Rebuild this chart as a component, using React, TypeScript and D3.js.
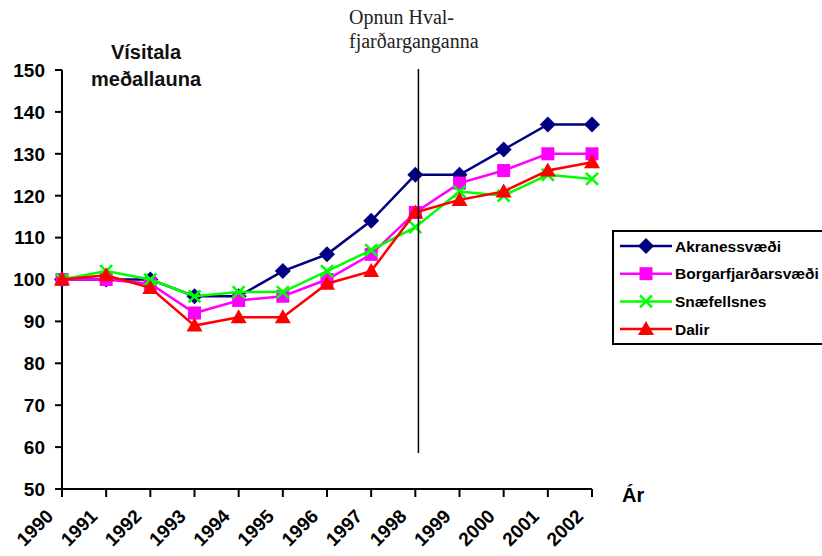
import React, { useEffect, useRef } from 'react';
import * as d3 from 'd3';

const years = [1990, 1991, 1992, 1993, 1994, 1995, 1996, 1997, 1998, 1999, 2000, 2001, 2002];
const akranes = [100, 100, 100, 96, 96, 102, 106, 114, 125, 125, 131, 137, 137];
const borgarfjordur = [100, 100, 99, 92, 95, 96, 100, 106, 116, 123, 126, 130, 130];
const snaefellsnes = [100, 102, 100, 96, 97, 97, 102, 107, 112.5, 121, 120, 125, 124];
const dalir = [100, 101, 98, 89, 91, 91, 99, 102, 116, 119, 121, 126, 128];
const yTicks = [50, 60, 70, 80, 90, 100, 110, 120, 130, 140, 150];
const seriesNames = ['Akranessvæði', 'Borgarfjarðarsvæði', 'Snæfellsnes', 'Dalir'];
const tunnelYear = 1998.07;

const sans = '"Liberation Sans", Arial, sans-serif';

const App = () => {
  const svgRef = useRef(null);

  useEffect(() => {
    const svg = d3.select(svgRef.current);
    svg.selectAll('*').remove();

    const x = d3.scaleLinear().domain([1990, 2002]).range([62, 592]);
    const y = d3.scaleLinear().domain([50, 150]).range([489, 70]);

    const series = [
      { name: seriesNames[0], values: akranes, color: '#000080', marker: 'diamond' },
      { name: seriesNames[1], values: borgarfjordur, color: '#ff00ff', marker: 'square' },
      { name: seriesNames[2], values: snaefellsnes, color: '#00ff00', marker: 'cross' },
      { name: seriesNames[3], values: dalir, color: '#ff0000', marker: 'triangle' },
    ];

    // marker drawing helper
    const drawMarker = (g, type, cx, cy, color) => {
      if (type === 'diamond') {
        g.append('path')
          .attr('d', `M${cx},${cy - 8}L${cx + 8},${cy}L${cx},${cy + 8}L${cx - 8},${cy}Z`)
          .attr('fill', color);
      } else if (type === 'square') {
        g.append('rect')
          .attr('x', cx - 6.5).attr('y', cy - 6.5)
          .attr('width', 13).attr('height', 13)
          .attr('fill', color);
      } else if (type === 'triangle') {
        g.append('path')
          .attr('d', `M${cx},${cy - 8}L${cx + 8},${cy + 6}L${cx - 8},${cy + 6}Z`)
          .attr('fill', color);
      } else {
        g.append('path')
          .attr('d', `M${cx - 6},${cy - 6}L${cx + 6},${cy + 6}M${cx + 6},${cy - 6}L${cx - 6},${cy + 6}`)
          .attr('stroke', color)
          .attr('stroke-width', 2.5)
          .attr('fill', 'none');
      }
    };

    // Y axis
    const yAxis = svg.append('g');
    yAxis.append('line')
      .attr('x1', x(1990)).attr('x2', x(1990))
      .attr('y1', y(150)).attr('y2', y(50))
      .attr('stroke', '#000').attr('stroke-width', 2);
    yTicks.forEach(t => {
      yAxis.append('line')
        .attr('x1', x(1990) - 7).attr('x2', x(1990))
        .attr('y1', y(t)).attr('y2', y(t))
        .attr('stroke', '#000').attr('stroke-width', 2);
      yAxis.append('text')
        .attr('x', 45).attr('y', y(t))
        .attr('dy', '0.36em')
        .attr('text-anchor', 'end')
        .attr('font-family', sans)
        .attr('font-weight', 'bold')
        .attr('font-size', 19)
        .text(t);
    });

    // X axis
    const xAxis = svg.append('g');
    xAxis.append('line')
      .attr('x1', x(1990)).attr('x2', x(2002))
      .attr('y1', y(50)).attr('y2', y(50))
      .attr('stroke', '#000').attr('stroke-width', 2);
    years.forEach(yr => {
      xAxis.append('line')
        .attr('x1', x(yr)).attr('x2', x(yr))
        .attr('y1', y(50)).attr('y2', y(50) + 8)
        .attr('stroke', '#000').attr('stroke-width', 2);
      xAxis.append('text')
        .attr('transform', `translate(${x(yr) - 17},${y(50) + 19}) rotate(-45)`)
        .attr('text-anchor', 'end')
        .attr('dy', '0.7em')
        .attr('font-family', sans)
        .attr('font-weight', 'bold')
        .attr('font-size', 19)
        .text(yr);
    });

    svg.append('text')
      .attr('x', 622).attr('y', 502)
      .attr('font-family', sans)
      .attr('font-weight', 'bold')
      .attr('font-size', 20)
      .text('Ár');

    // Title
    const title = svg.append('text')
      .attr('text-anchor', 'middle')
      .attr('font-family', sans)
      .attr('font-weight', 'bold')
      .attr('font-size', 20)
      .attr('fill', '#111');
    title.append('tspan').attr('x', 146).attr('y', 59).text('Vísitala');
    title.append('tspan').attr('x', 146).attr('y', 86).text('meðallauna');

    // Lines and markers
    const line = d3.line().x((d, i) => x(years[i])).y(d => y(d));
    series.forEach(s => {
      const g = svg.append('g');
      g.append('path')
        .datum(s.values)
        .attr('fill', 'none')
        .attr('stroke', s.color)
        .attr('stroke-width', 2.5)
        .attr('d', line);
      s.values.forEach((v, i) => drawMarker(g, s.marker, x(years[i]), y(v), s.color));
    });

    // Tunnel opening line
    svg.append('line')
      .attr('x1', x(tunnelYear)).attr('x2', x(tunnelYear))
      .attr('y1', 69).attr('y2', 453)
      .attr('stroke', '#000').attr('stroke-width', 1.5);

    const note = svg.append('text')
      .attr('font-family', '"Liberation Serif", "Times New Roman", serif')
      .attr('font-size', 20)
      .attr('fill', '#222');
    note.append('tspan').attr('x', 349).attr('y', 24).text('Opnun Hval-');
    note.append('tspan').attr('x', 349).attr('y', 48).text('fjarðarganganna');

    // Legend
    const legend = svg.append('g');
    legend.append('rect')
      .attr('x', 613).attr('y', 231)
      .attr('width', 230).attr('height', 113)
      .attr('fill', '#fff')
      .attr('stroke', '#000').attr('stroke-width', 2);
    series.forEach((s, i) => {
      const ly = 246 + i * 27.7;
      const lg = legend.append('g');
      lg.append('line')
        .attr('x1', 620).attr('x2', 672)
        .attr('y1', ly).attr('y2', ly)
        .attr('stroke', s.color).attr('stroke-width', 2.5);
      drawMarker(lg, s.marker, 646, ly, s.color);
      lg.append('text')
        .attr('x', 675).attr('y', ly)
        .attr('dy', '0.36em')
        .attr('font-family', sans)
        .attr('font-weight', 'bold')
        .attr('font-size', 15.5)
        .text(s.name);
    });
  }, []);

  return (
    <svg
      ref={svgRef}
      width={822}
      height={556}
      style={{ position: 'absolute', left: 0, top: 0, background: '#fff' }}
    ></svg>
  );
};

export default App;
